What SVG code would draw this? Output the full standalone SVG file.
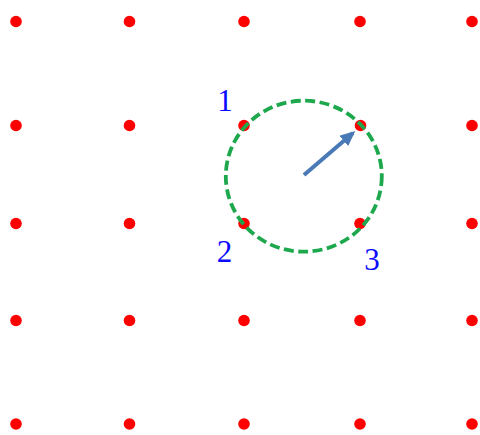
<svg xmlns="http://www.w3.org/2000/svg" width="480" height="435" viewBox="0 0 480 435">
<defs>
<style>
.dot{fill:#ff0000}
.lbl{font-family:"Liberation Serif","Times New Roman",serif;font-size:31px;fill:#0a0aff;text-anchor:middle}
</style>
<marker id="ah" viewBox="0 0 10 10" refX="8" refY="5" markerWidth="3.8" markerHeight="3.4" orient="auto" markerUnits="strokeWidth" preserveAspectRatio="none">
<path d="M0,0 L10,5 L0,10 z" fill="#4a7ab5"/>
</marker>
</defs>
<rect width="480" height="435" fill="#ffffff"/>
<g id="grid">
<circle class="dot" cx="16" cy="21.5" r="5.8"/><circle class="dot" cx="129.5" cy="21.5" r="5.8"/><circle class="dot" cx="244" cy="21.5" r="5.8"/><circle class="dot" cx="360" cy="21.5" r="5.8"/><circle class="dot" cx="472" cy="21.5" r="5.8"/>
<circle class="dot" cx="16" cy="125.5" r="5.8"/><circle class="dot" cx="129.5" cy="125.5" r="5.8"/><circle class="dot" cx="244" cy="125.5" r="5.8"/><circle class="dot" cx="360.5" cy="125.5" r="5.8"/><circle class="dot" cx="472" cy="125.5" r="5.8"/>
<circle class="dot" cx="16" cy="223.5" r="5.8"/><circle class="dot" cx="129.5" cy="223.5" r="5.8"/><circle class="dot" cx="244" cy="223.5" r="5.8"/><circle class="dot" cx="360" cy="223.5" r="5.8"/><circle class="dot" cx="472" cy="223.5" r="5.8"/>
<circle class="dot" cx="16" cy="320.5" r="5.8"/><circle class="dot" cx="129.5" cy="320.5" r="5.8"/><circle class="dot" cx="244" cy="320.5" r="5.8"/><circle class="dot" cx="360" cy="320.5" r="5.8"/><circle class="dot" cx="472" cy="320.5" r="5.8"/>
<circle class="dot" cx="16" cy="424" r="5.8"/><circle class="dot" cx="129.5" cy="424" r="5.8"/><circle class="dot" cx="244" cy="424" r="5.8"/><circle class="dot" cx="360" cy="424" r="5.8"/><circle class="dot" cx="472" cy="424" r="5.8"/>
</g>
<g id="circle">
<ellipse cx="303.8" cy="176.2" rx="78" ry="75.5" fill="none" stroke="#1ea84e" stroke-width="3.8" stroke-dasharray="10,4.5"/>
</g>
<g id="connectors">
<line x1="304" y1="175" x2="353" y2="133" stroke="#4a7ab5" stroke-width="4" marker-end="url(#ah)"/>
</g>
<g id="labels">
<text class="lbl" x="225" y="110.5">1</text>
<text class="lbl" x="224.5" y="261.5">2</text>
<text class="lbl" x="372" y="270">3</text>
</g>
</svg>
